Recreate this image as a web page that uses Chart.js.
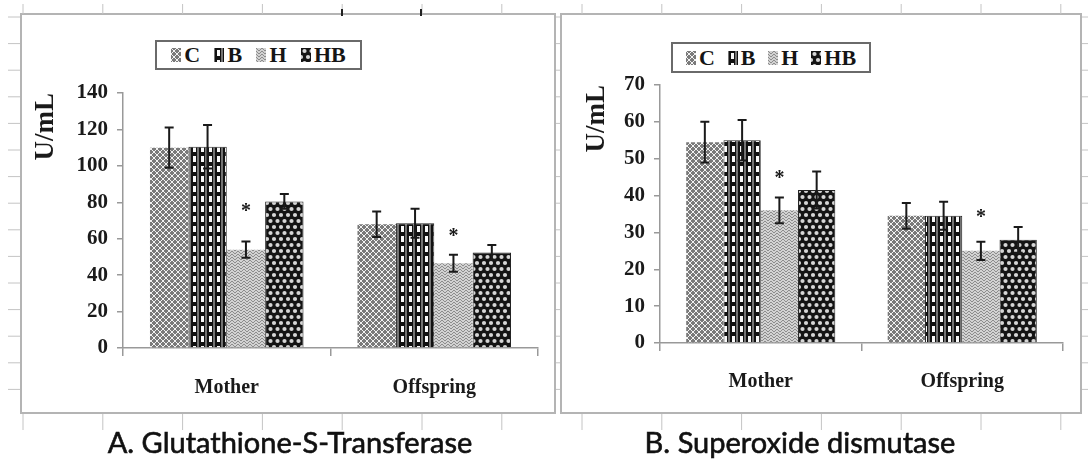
<!DOCTYPE html>
<html>
<head>
<meta charset="utf-8">
<script src="https://cdn.jsdelivr.net/npm/chart.js@4.4.0/dist/chart.umd.min.js"></script>
<style>
  body { margin: 0; width: 1088px; height: 465px; background: #fff; position: relative; overflow: hidden; }
  #frame { position: absolute; left: 0; top: 0; }
  .panel { position: absolute; }
  .legend {
    position: absolute; box-sizing: border-box; border: 2px solid #6a6a6a; background: #fff;
    display: flex; align-items: center; justify-content: space-evenly;
    font-family: "Liberation Serif", "Times New Roman", serif; font-weight: bold; font-size: 22px; color: #151515;
  }
  .legend .item { display: flex; align-items: center; }
  .legend canvas { margin-right: 3px; }
  .caption {
    position: absolute; top: 424px; line-height: 36px; font-family: Lato, sans-serif; font-size: 29px;
    color: #111; text-align: center; -webkit-text-stroke: 0.6px #111;
  }
</style>
</head>
<body>
<canvas id="frame" width="1088" height="465"></canvas>
<div class="panel" style="left:22px;top:14px;width:533px;height:399px"><canvas id="gstChart" width="533" height="399"></canvas></div>
<div class="panel" style="left:561px;top:14px;width:521px;height:399px"><canvas id="sodChart" width="521" height="399"></canvas></div>
<div class="legend" id="gstLegend" style="left:155px;top:40px;width:207px;height:30px"></div>
<div class="legend" id="sodLegend" style="left:671px;top:42px;width:200px;height:31px"></div>
<div class="caption" style="left:40px;width:500px">A. Glutathione-S-Transferase</div>
<div class="caption" style="left:550px;width:500px">B. Superoxide dismutase</div>

<script>
const groups = ['Mother', 'Offspring'];
const series = ['C', 'B', 'H', 'HB'];

// A. Glutathione-S-Transferase (U/mL)
const gstC = [110, 68];
const gstB = [110.5, 68.5];
const gstH = [54, 46.5];
const gstHB = [80.5, 52.5];
const gstErrC = [11, 7];
const gstErrB = [12, 8];
const gstErrH = [4.5, 4.7];
const gstErrHB = [4, 4];
const gstStar = [77, 63];   // asterisk above H
const gstMax = 140, gstStep = 20;

// B. Superoxide dismutase (U/mL)
const sodC = [54.5, 34.5];
const sodB = [55, 34.5];
const sodH = [36, 25];
const sodHB = [41.5, 28];
const sodErrC = [5.5, 3.5];
const sodErrB = [5.5, 3.8];
const sodErrH = [3.5, 2.5];
const sodErrHB = [5, 3.5];
const sodStar = [45.5, 35];
const sodMax = 70, sodStep = 10;

const serif = "'Liberation Serif', 'Times New Roman', serif";

// background frame (sheet borders and stubs)
const frame = document.getElementById('frame').getContext('2d');
frame.strokeStyle = '#b4b4b4';
frame.lineWidth = 2;
frame.strokeRect(21, 14, 534, 399);
frame.strokeRect(561, 14, 520, 399);
frame.lineWidth = 1;
frame.strokeStyle = '#c4c4c4';
for (let k = 0; k < 7; k++) {
    [23 + 79.8 * k, 582 + 79.8 * k].forEach(x => {
        frame.beginPath(); frame.moveTo(x, 4); frame.lineTo(x, 14); frame.stroke();
        frame.beginPath(); frame.moveTo(x, 414); frame.lineTo(x, 430); frame.stroke();
    });
}
for (let y = 17; y < 414; y += 26.6) {
    frame.beginPath(); frame.moveTo(8, y); frame.lineTo(20, y); frame.stroke();
    frame.beginPath(); frame.moveTo(556, y); frame.lineTo(560, y); frame.stroke();
    frame.beginPath(); frame.moveTo(1082, y); frame.lineTo(1088, y); frame.stroke();
}
frame.strokeStyle = '#222';
frame.lineWidth = 2;
[342, 421].forEach(x => { frame.beginPath(); frame.moveTo(x, 9); frame.lineTo(x, 16); frame.stroke(); });

// fill patterns
function makeTile(w, h, draw) {
    const c = document.createElement('canvas');
    c.width = w; c.height = h;
    draw(c.getContext('2d'));
    return c;
}
const zig = [0, 1, 2, 2, 1, 0];
const tiles = [
    makeTile(6, 6, g => {
        g.fillStyle = '#7a7a7a'; g.fillRect(0, 0, 6, 6);
        g.fillStyle = '#f2f2f2';
        zig.forEach((y, x) => { g.fillRect(x, y, 1, 1); g.fillRect((x + 3) % 6, y + 3, 1, 1); });
    }),
    makeTile(8, 10, g => {
        g.fillStyle = '#747474'; g.fillRect(0, 0, 8, 10);
        g.fillStyle = '#111'; g.fillRect(1, 0, 6, 10);
        g.fillStyle = '#fafafa'; g.fillRect(3, 2, 3, 6);
    }),
    makeTile(6, 6, g => {
        g.fillStyle = '#d2d2d2'; g.fillRect(0, 0, 6, 6);
        g.fillStyle = '#8c8c8c';
        zig.forEach((y, x) => { g.fillRect(x, y, 1, 1); g.fillRect(x, y + 3, 1, 1); });
    }),
    makeTile(7, 12, g => {
        g.fillStyle = '#141414'; g.fillRect(0, 0, 7, 12);
        g.fillStyle = '#d6d6d6';
        [[3.5, 3], [0, 9], [7, 9]].forEach(([x, y]) => { g.beginPath(); g.arc(x, y, 2.1, 0, Math.PI * 2); g.fill(); });
    })
];
const patterns = tiles.map(t => frame.createPattern(t, 'repeat'));

function fillLegend(id) {
    const box = document.getElementById(id);
    series.forEach((name, i) => {
        const item = document.createElement('span');
        item.className = 'item';
        const sw = document.createElement('canvas');
        sw.width = 10; sw.height = 14;
        const g = sw.getContext('2d');
        g.fillStyle = patterns[i]; g.fillRect(0, 0, 10, 14);
        item.appendChild(sw);
        item.appendChild(document.createTextNode(name));
        box.appendChild(item);
    });
}
fillLegend('gstLegend');
fillLegend('sodLegend');

const errorBars = {
    id: 'errorBars',
    afterDatasetsDraw(chart) {
        const ctx = chart.ctx, y = chart.scales.y;
        ctx.save();
        ctx.strokeStyle = '#1a1a1a';
        ctx.lineWidth = 2;
        chart.data.datasets.forEach((ds, i) => {
            chart.getDatasetMeta(i).data.forEach((bar, j) => {
                const hi = y.getPixelForValue(ds.data[j] + ds.errors[j]);
                const lo = y.getPixelForValue(ds.data[j] - ds.errors[j]);
                ctx.beginPath();
                ctx.moveTo(bar.x, hi); ctx.lineTo(bar.x, lo);
                ctx.moveTo(bar.x - 4.5, hi); ctx.lineTo(bar.x + 4.5, hi);
                ctx.moveTo(bar.x - 4.5, lo); ctx.lineTo(bar.x + 4.5, lo);
                ctx.stroke();
            });
        });
        ctx.restore();
    }
};

function starMarks(stars) {
    return {
        id: 'starMarks',
        afterDatasetsDraw(chart) {
            const ctx = chart.ctx, y = chart.scales.y;
            ctx.save();
            ctx.font = 'bold 20px ' + serif;
            ctx.fillStyle = '#1a1a1a';
            ctx.textAlign = 'center';
            ctx.textBaseline = 'middle';
            chart.getDatasetMeta(2).data.forEach((bar, j) => {
                ctx.fillText('*', bar.x, y.getPixelForValue(stars[j]) + 4);
            });
            ctx.restore();
        }
    };
}

function buildChart(id, values, errors, stars, maxY, step, d) {
    return new Chart(document.getElementById(id), {
        type: 'bar',
        data: {
            labels: groups,
            datasets: series.map((name, i) => ({
                label: name,
                data: values[i],
                errors: errors[i],
                backgroundColor: patterns[i],
                borderColor: '#222',
                borderWidth: (i === 1 || i === 3) ? 1 : 0,
                categoryPercentage: 0.74,
                barPercentage: 1.0
            }))
        },
        options: {
            responsive: false,
            animation: false,
            layout: { padding: { top: d.top, right: d.right, left: 0, bottom: 0 } },
            plugins: { legend: { display: false }, tooltip: { enabled: false } },
            scales: {
                x: {
                    offset: true,
                    grid: { offset: true, drawOnChartArea: false, tickLength: 8, color: '#999', lineWidth: 1.5 },
                    border: { color: '#999', width: 1.5 },
                    ticks: { font: { family: serif, weight: 'bold', size: 20 }, color: '#1a1a1a', padding: d.labelPad },
                    afterFit: s => { s.height = d.xH; }
                },
                y: {
                    min: 0, max: maxY,
                    ticks: { stepSize: step, font: { family: serif, weight: 'bold', size: 21 }, color: '#1a1a1a', padding: 9 },
                    grid: { drawOnChartArea: false, tickLength: 6, color: '#999', lineWidth: 1.5 },
                    border: { color: '#999', width: 1.5 },
                    title: {
                        display: true, text: 'U/mL', align: 'end', color: '#1a1a1a',
                        font: { family: serif, weight: 'bold', size: 27 },
                        padding: { top: d.titlePad, bottom: 0 }
                    },
                    afterFit: s => { s.width = d.axisW; }
                }
            }
        },
        plugins: [errorBars, starMarks(stars)]
    });
}

buildChart('gstChart',
    [gstC, gstB, gstH, gstHB],
    [gstErrC, gstErrB, gstErrH, gstErrHB],
    gstStar, gstMax, gstStep,
    { top: 79, right: 17, xH: 65, axisW: 101, labelPad: 20, titlePad: 8 });

buildChart('sodChart',
    [sodC, sodB, sodH, sodHB],
    [sodErrC, sodErrB, sodErrH, sodErrHB],
    sodStar, sodMax, sodStep,
    { top: 71, right: 19, xH: 70, axisW: 99, labelPad: 19, titlePad: 20 });
</script>
</body>
</html>
